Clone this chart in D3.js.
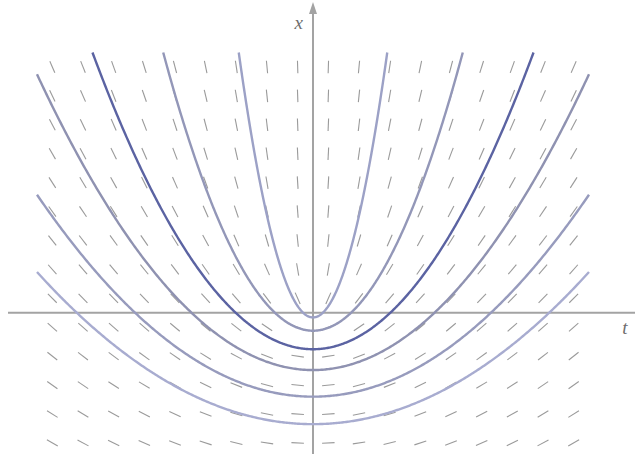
<!DOCTYPE html>
<html>
<head>
<meta charset="utf-8">
<script src="https://cdn.jsdelivr.net/npm/d3@7/dist/d3.min.js"></script>
<style>
  html, body { margin: 0; padding: 0; background: #fff; }
  svg { display: block; }
</style>
</head>
<body>
<svg id="chart" width="635" height="454"></svg>
<script>
// Direction field for x' = (x + sqrt(t^2 + x^2)) / t and a family of
// solution curves x = t^2/(4c) - c (confocal parabolas, focus at origin).

// Grid of t and x values where the slope dashes are drawn
const fieldT = [-8.5, -7.5, -6.5, -5.5, -4.5, -3.5, -2.5, -1.5, -0.5,
                 0.5, 1.5, 2.5, 3.5, 4.5, 5.5, 6.5, 7.5, 8.5];
const fieldX = [-4.5, -3.5, -2.5, -1.5, -0.5, 0.5, 1.5, 2.5, 3.5,
                 4.5, 5.5, 6.5, 7.5, 8.5];

// Solution curves: value x(0) at the vertex of each curve
const vertexX = [-0.16, -0.62, -1.26, -1.98, -2.90, -3.85];
const curveColors = ["#9ca1c6", "#9397b8", "#5b63a2", "#8f92b1", "#979bbd", "#a8acd0"];

// Plot window
const tDomain = [-9, 9];
const xDomain = [-5, 9];

const svg = d3.select("#chart");
const tScale = d3.scaleLinear().domain(tDomain).range([37, 589]);
const xScale = d3.scaleLinear().domain(xDomain).range([457.4, 52.5]);

const slope = (t, x) => (x + Math.sqrt(t * t + x * x)) / t;

// Axes
const axisColor = "#a3a3a3";
svg.append("line")
  .attr("x1", 8).attr("x2", 635)
  .attr("y1", xScale(0)).attr("y2", xScale(0))
  .attr("stroke", axisColor).attr("stroke-width", 2);
svg.append("line")
  .attr("x1", tScale(0)).attr("x2", tScale(0))
  .attr("y1", 454).attr("y2", 10)
  .attr("stroke", axisColor).attr("stroke-width", 2);
svg.append("path")
  .attr("d", `M${tScale(0)},2 L${tScale(0) - 4},14 L${tScale(0) + 4},14 Z`)
  .attr("fill", axisColor);

svg.append("text")
  .attr("x", tScale(0) - 10).attr("y", 29)
  .attr("text-anchor", "end")
  .attr("font-family", "'Liberation Serif', serif")
  .attr("font-style", "italic")
  .attr("font-size", 19)
  .attr("fill", "#6e6e6e")
  .text("x");
svg.append("text")
  .attr("x", 625).attr("y", 334)
  .attr("text-anchor", "middle")
  .attr("font-family", "'Liberation Serif', serif")
  .attr("font-style", "italic")
  .attr("font-size", 19)
  .attr("fill", "#6e6e6e")
  .text("t");

// Slope dashes, each the same length on screen
const dashLen = 12.5;
const kt = tScale(1) - tScale(0);
const kx = xScale(0) - xScale(1);
const cells = [];
fieldT.forEach(t => fieldX.forEach(x => cells.push({ t, x })));
svg.append("g")
  .selectAll("line")
  .data(cells)
  .join("line")
  .each(function (d) {
    const m = slope(d.t, d.x);
    const dx = kt, dy = -m * kx;
    const n = Math.hypot(dx, dy);
    const ux = dx / n * dashLen / 2, uy = dy / n * dashLen / 2;
    const cx = tScale(d.t), cy = xScale(d.x);
    d3.select(this)
      .attr("x1", cx - ux).attr("y1", cy - uy)
      .attr("x2", cx + ux).attr("y2", cy + uy);
  })
  .attr("stroke", "#9a9a9a")
  .attr("stroke-width", 1.1);

// Solution curves
const line = d3.line().x(d => tScale(d[0])).y(d => xScale(d[1]));
vertexX.forEach((x0, i) => {
  const c = -x0;
  const tMax = Math.min(tDomain[1], 2 * Math.sqrt(c * (xDomain[1] + c)));
  const pts = d3.range(0, 401).map(k => {
    const t = -tMax + (2 * tMax) * k / 400;
    return [t, t * t / (4 * c) - c];
  });
  svg.append("path")
    .attr("d", line(pts))
    .attr("fill", "none")
    .attr("stroke", curveColors[i])
    .attr("stroke-width", 2.4);
});
</script>
</body>
</html>
